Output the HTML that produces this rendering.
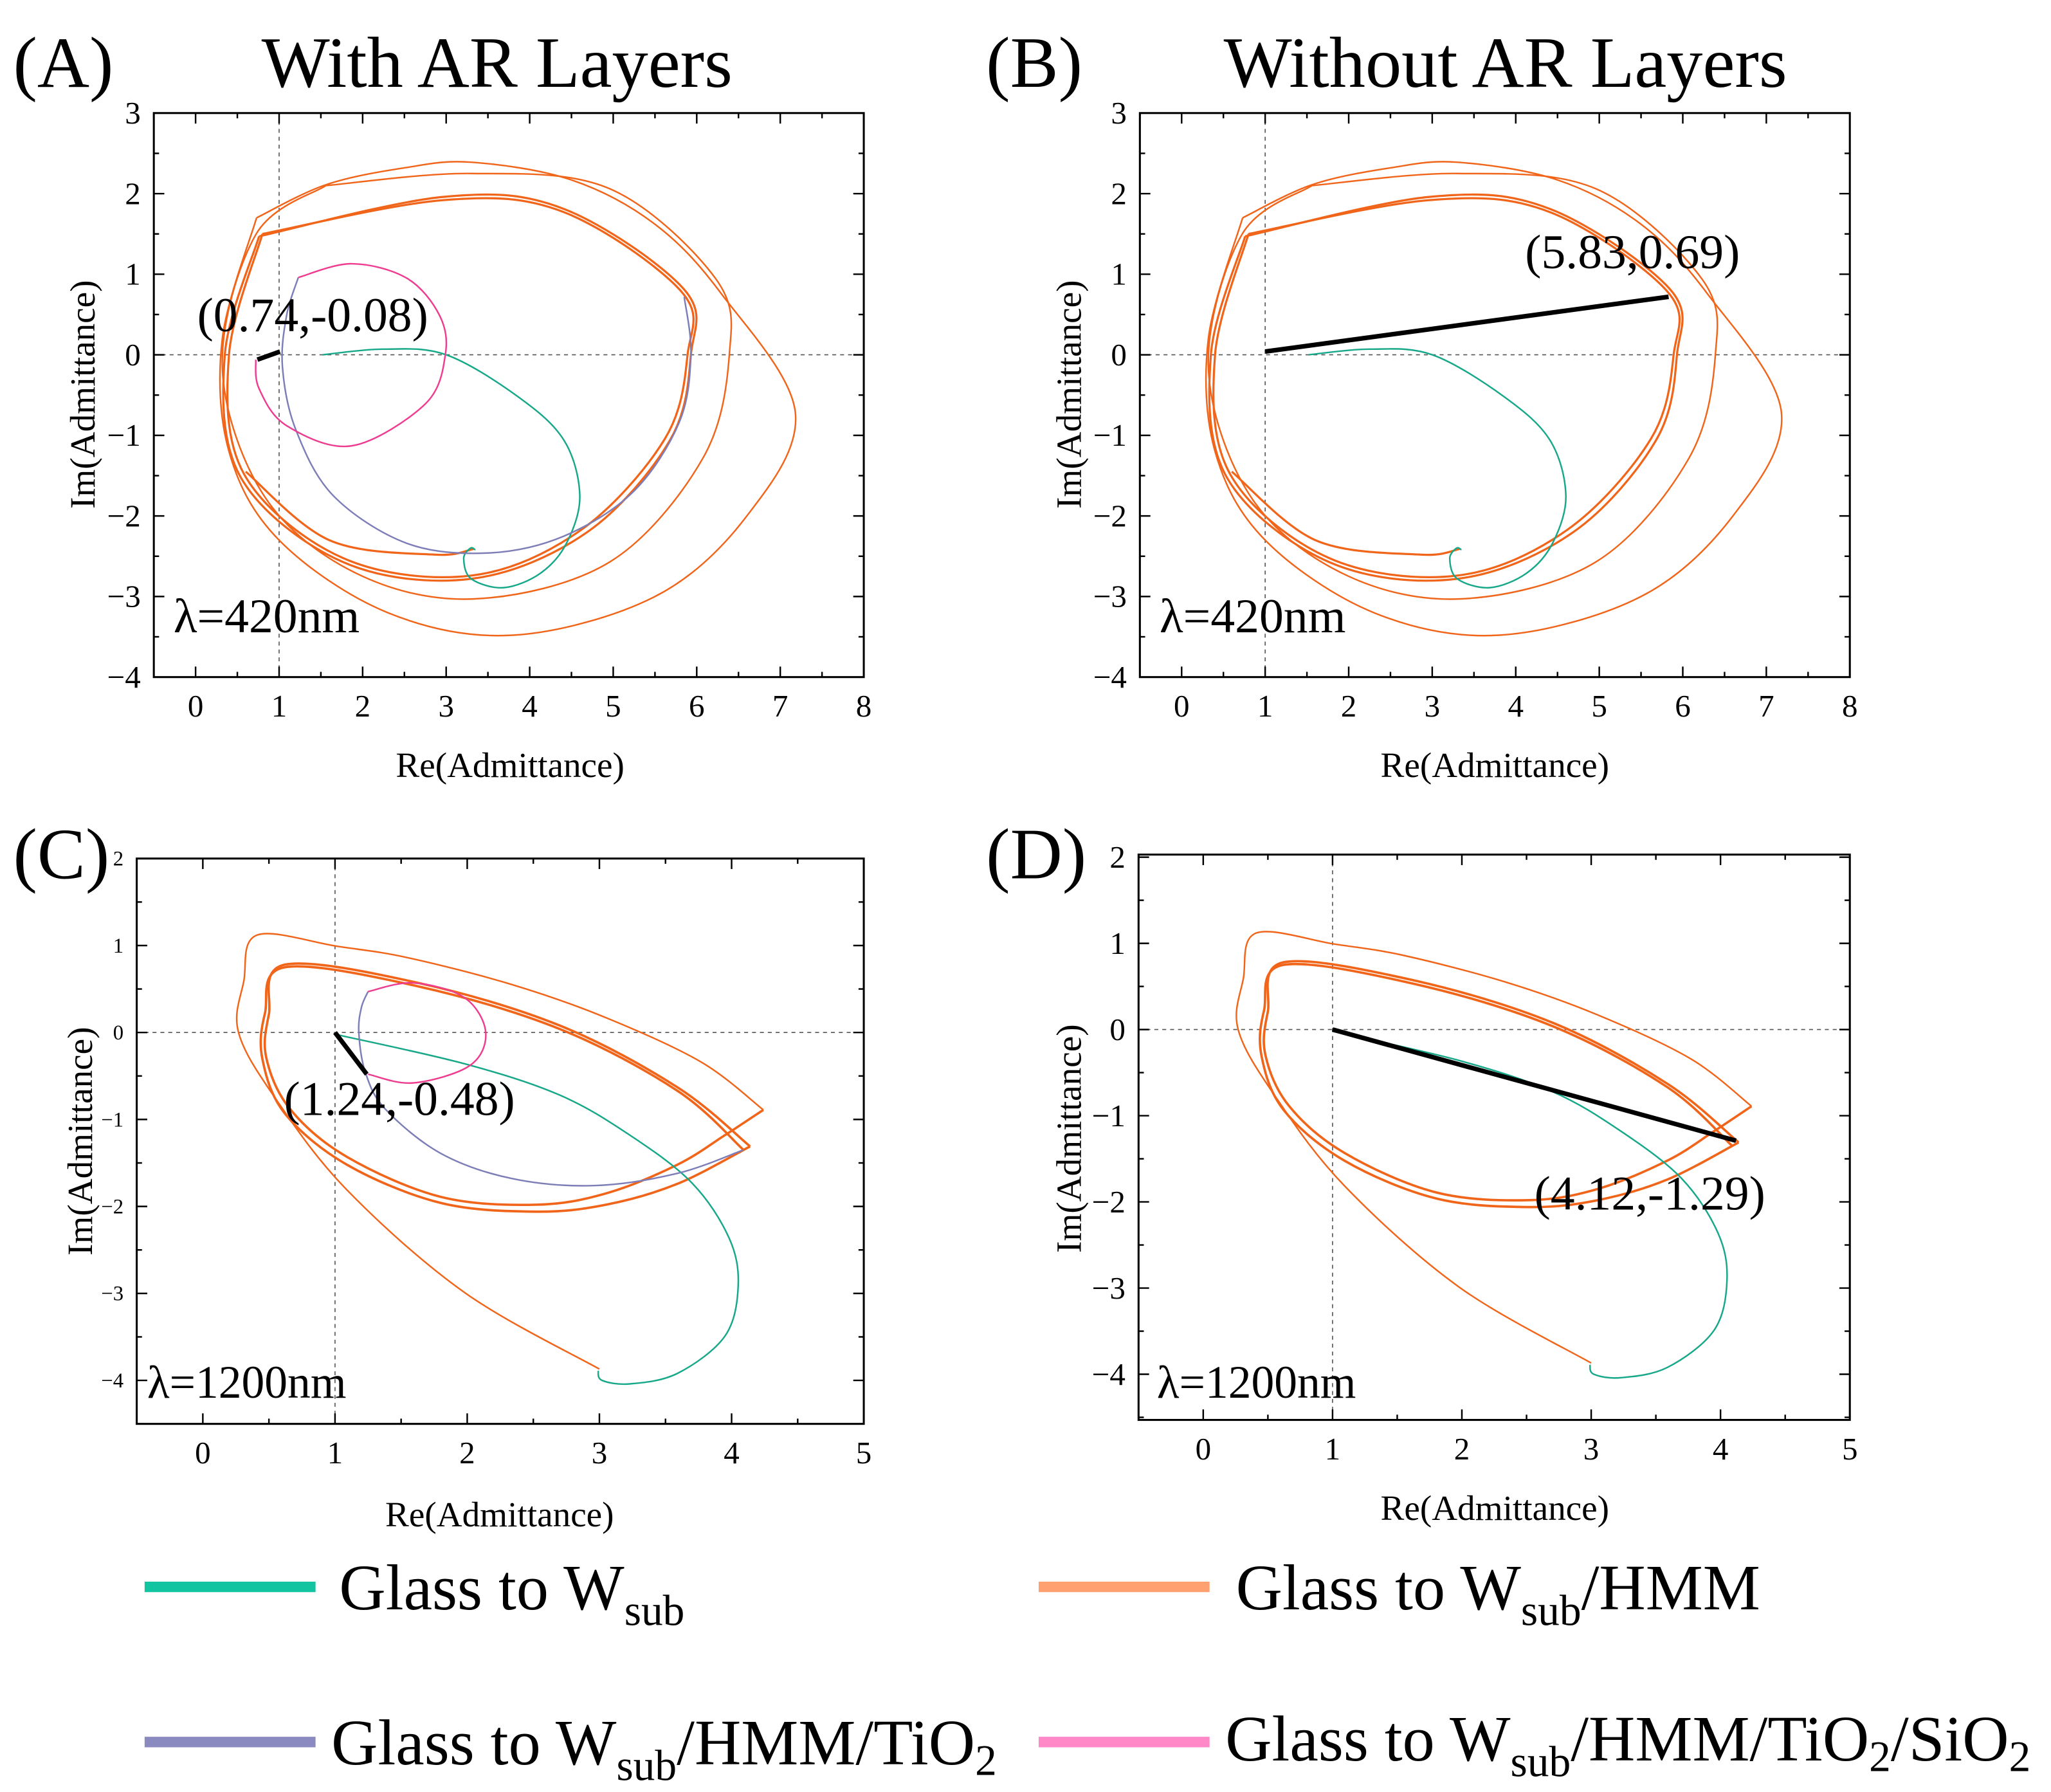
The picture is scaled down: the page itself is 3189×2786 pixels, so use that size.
<!DOCTYPE html>
<html><head><meta charset="utf-8"><style>
html,body{margin:0;padding:0;background:#fff}
svg{display:block}
text{font-family:"Liberation Serif",serif;fill:#000}
</style></head><body>
<svg id="fig" width="3189" height="2786" viewBox="0 0 1560 1363" preserveAspectRatio="none" xmlns="http://www.w3.org/2000/svg">
<g id="root"></g>
<text x="10" y="66" font-size="55">(A)</text>
<text x="378" y="66" font-size="55" text-anchor="middle">With AR Layers</text>
<text x="750" y="66" font-size="55">(B)</text>
<text x="1145" y="66" font-size="55" text-anchor="middle">Without AR Layers</text>
<text x="10" y="668" font-size="55">(C)</text>
<text x="750" y="668" font-size="55">(D)</text>
<g>
<line x1="110" y1="1207" x2="240" y2="1207" stroke="#12c4a0" stroke-width="8"/>
<text x="258" y="1224" font-size="49">Glass to W<tspan font-size="33" dy="12">sub</tspan></text>
<line x1="790" y1="1207" x2="920" y2="1207" stroke="#ffa070" stroke-width="8"/>
<text x="940" y="1224" font-size="49">Glass to W<tspan font-size="33" dy="12">sub</tspan><tspan dy="-12">/HMM</tspan></text>
<line x1="110" y1="1325" x2="240" y2="1325" stroke="#8a8ac0" stroke-width="8"/>
<text x="252" y="1342" font-size="49">Glass to W<tspan font-size="33" dy="12">sub</tspan><tspan dy="-12">/HMM/TiO</tspan><tspan font-size="33" dy="8">2</tspan></text>
<line x1="790" y1="1325" x2="920" y2="1325" stroke="#ff88c8" stroke-width="8"/>
<text x="932" y="1339" font-size="49">Glass to W<tspan font-size="33" dy="12">sub</tspan><tspan dy="-12">/HMM/TiO</tspan><tspan font-size="33" dy="8">2</tspan><tspan dy="-8">/SiO</tspan><tspan font-size="33" dy="8">2</tspan></text>
</g>
</svg>
<script>
// ---- data (admittance coordinates) ----
const visOrange1 = [[0.73,1.70],[1.56,2.11],[2.5,2.32],[3.3,2.39],[4.5,2.17],[5.5,1.62],[6.3,0.75],[7.18,-0.71],[6.6,-2.0],[5.5,-3.0],[3.8,-3.48],[2.3,-3.2],[1.0,-2.3],[0.4,-1.2],[0.32,0.2],[0.73,1.70]];
const visOrange2 = [[1.56,2.10],[3.3,2.25],[4.96,2.06],[6.23,0.94],[6.39,0.0],[6.07,-1.29],[4.96,-2.57],[3.33,-3.03],[1.92,-2.71],[0.82,-1.75],[0.32,-0.15],[0.72,1.49],[1.56,2.10]];
const visOrange3 = [[0.76,1.47],[2.97,1.96],[4.41,1.81],[5.85,0.81],[5.93,0.0],[5.68,-1.06],[4.69,-2.2],[3.30,-2.78],[1.76,-2.57],[0.54,-1.52],[0.35,0.0],[0.76,1.47]];
const visOrange4 = [[0.80,1.50],[2.97,1.92],[4.41,1.77],[5.82,0.78],[5.89,0.0],[5.62,-1.04],[4.62,-2.17],[3.30,-2.74],[1.76,-2.52],[0.58,-1.48],[0.40,0.0],[0.80,1.50]];
const visOrange5 = [[0.60,-1.45],[1.6,-2.3],[2.86,-2.48],[3.33,-2.41]];
const visTeal = [[1.52,0],[2.25,0.07],[3.0,0],[3.86,-0.52],[4.41,-1.06],[4.6,-1.75],[4.44,-2.34],[4.13,-2.71],[3.69,-2.89],[3.30,-2.78],[3.21,-2.53],[3.29,-2.4],[3.35,-2.42]];
const visPurple = [[5.85,0.72],[5.93,0.0],[5.79,-0.84],[5.24,-1.7],[4.41,-2.25],[3.50,-2.46],[2.53,-2.34],[1.65,-1.75],[1.20,-0.93],[1.04,-0.15],[1.09,0.49],[1.23,0.96]];
const visPink = [[1.23,0.96],[1.87,1.13],[2.53,0.95],[2.92,0.49],[2.99,0.0],[2.75,-0.61],[1.87,-1.13],[1.09,-0.88],[0.76,-0.42],[0.72,-0.06]];
const visBlackA = [[0.74,-0.06],[1.01,0.04]];
const visBlackB = [[1.0,0.04],[5.83,0.72]];

const irOrange1 = [[3.0,-3.87],[1.98,-2.99],[1.09,-1.81],[0.55,-0.76],[0.27,0.0],[0.31,0.59],[0.41,1.12],[1.02,0.99],[1.55,0.86],[2.34,0.55],[3.05,0.17],[3.77,-0.34],[4.24,-0.89]];
const irOrange2 = [[4.24,-0.89],[3.95,-1.18],[3.59,-1.52],[3.05,-1.85],[2.52,-1.98],[1.80,-1.89],[1.09,-1.43],[0.66,-0.88],[0.48,-0.29],[0.50,0.21],[0.62,0.78],[1.63,0.57],[2.70,0.08],[3.59,-0.63],[4.14,-1.31]];
const irOrange3 = [[4.14,-1.31],[3.59,-1.74],[3.05,-1.98],[2.52,-2.06],[1.80,-1.96],[1.09,-1.52],[0.62,-0.93],[0.45,-0.30],[0.47,0.22],[0.62,0.75],[1.63,0.53],[2.70,0.04],[3.59,-0.67],[4.09,-1.35]];
const irTeal = [[1.0,-0.02],[1.98,-0.36],[2.70,-0.72],[3.23,-1.18],[3.70,-1.73],[3.98,-2.36],[4.05,-2.91],[3.95,-3.49],[3.59,-3.92],[3.23,-4.04],[3.02,-4.0],[2.99,-3.89]];
const irPurple = [[4.09,-1.35],[3.59,-1.62],[2.96,-1.76],[2.34,-1.68],[1.80,-1.39],[1.38,-0.88],[1.23,-0.46],[1.18,0.0],[1.2,0.29],[1.25,0.47]];
const irPink = [[1.25,0.47],[1.59,0.57],[1.98,0.40],[2.14,0.0],[2.02,-0.38],[1.59,-0.58],[1.25,-0.48]];
const irBlackC = [[1.0,0.0],[1.24,-0.48]];
const irBlackD = [[1.0,0.0],[4.12,-1.29]];

const xTicksVis = [0,1,2,3,4,5,6,7,8];
const yTicksVis = [3,2,1,0,-1,-2,-3,-4];
const xTicksIR = [0,1,2,3,4,5];
const yTicksIR = [2,1,0,-1,-2,-3,-4];

const NS="http://www.w3.org/2000/svg";
const root=document.getElementById('root');
function mk(tag,attrs,parent){const e=document.createElementNS(NS,tag);for(const k in attrs)e.setAttribute(k,attrs[k]);(parent||root).appendChild(e);return e;}

function panel(id,box,xd,yd,xt,yt,tickFs){
  const g=mk('g',{});
  
  
  const sx=v=>box.l+(v-xd[0])/(xd[1]-xd[0])*(box.r-box.l);
  const sy=v=>box.t+(yd[1]-v)/(yd[1]-yd[0])*(box.b-box.t);
  const d1=mk('line',{x1:sx(1),x2:sx(1),y1:box.t,y2:box.b,stroke:'#555','stroke-width':0.8,'stroke-dasharray':'3,3'},g);
  
  
  const d0=mk('line',{x1:box.l,x2:box.r,y1:sy(0),y2:sy(0),stroke:'#555','stroke-width':0.8,'stroke-dasharray':'3,3'},g);
  
  
  const fr=mk('rect',{x:box.l,y:box.t,width:box.r-box.l,height:box.b-box.t,fill:'none',stroke:'#000','stroke-width':1.5},g);
  
  
  for(let v=xd[0];v<=xd[1]+1e-9;v+=0.5){
    const major=Math.abs(v-Math.round(v))<1e-9; const L=major?8:4; const x=sx(v);
    mk('line',{x1:x,x2:x,y1:box.b,y2:box.b-L,stroke:'#000','stroke-width':1.2},g);
    mk('line',{x1:x,x2:x,y1:box.t,y2:box.t+L,stroke:'#000','stroke-width':1.2},g);
  }
  for(let v=Math.ceil(yd[0]*2)/2;v<=yd[1]+1e-9;v+=0.5){
    const major=Math.abs(v-Math.round(v))<1e-9; const L=major?8:4; const y=sy(v);
    mk('line',{x1:box.l,x2:box.l+L,y1:y,y2:y,stroke:'#000','stroke-width':1.2},g);
    mk('line',{x1:box.r,x2:box.r-L,y1:y,y2:y,stroke:'#000','stroke-width':1.2},g);
  }
  xt.forEach(v=>{const t=mk('text',{x:sx(v),y:box.b+30,'font-size':24,'text-anchor':'middle'},g);t.textContent=v;
    
    });
  yt.forEach(v=>{const t=mk('text',{x:box.l-10,y:sy(v)+(tickFs/3),'font-size':tickFs,'text-anchor':'end'},g);t.textContent=(v<0?'\u2212'+(-v):v);
    
    });
  return {g,sx,sy};
}
function curve(p,pts,color,w,name){
  const P=pts.map(q=>[p.sx(q[0]),p.sy(q[1])]);
  let d='M'+P[0][0]+','+P[0][1];
  for(let i=0;i<P.length-1;i++){
    const p0=P[Math.max(0,i-1)],p1=P[i],p2=P[i+1],p3=P[Math.min(P.length-1,i+2)];
    const c1=[p1[0]+(p2[0]-p0[0])/6,p1[1]+(p2[1]-p0[1])/6];
    const c2=[p2[0]-(p3[0]-p1[0])/6,p2[1]-(p3[1]-p1[1])/6];
    d+=' C'+c1[0]+','+c1[1]+' '+c2[0]+','+c2[1]+' '+p2[0]+','+p2[1];
  }
  const e=mk('path',{d:d,fill:'none',stroke:color,'stroke-width':w,'stroke-linejoin':'round'},p.g);
  
  
}
function seg(p,pts,name){
  const e=mk('line',{x1:p.sx(pts[0][0]),y1:p.sy(pts[0][1]),x2:p.sx(pts[1][0]),y2:p.sy(pts[1][1]),stroke:'#000','stroke-width':3.5},p.g);
  
  
}
function label(p,x,y,txt,fs,name,anchor){
  const t=mk('text',{x:x,y:y,'font-size':fs,'text-anchor':anchor||'start'},p.g);t.textContent=txt;
  
  
}
function titles(p,cx,ty,yx,cy){
  label(p,cx,ty,'Re(Admittance)',27,'x-axis-title','middle');
  const t=mk('text',{x:yx,y:cy,'font-size':27,'text-anchor':'middle',transform:'rotate(-90 '+yx+' '+cy+')'},p.g);
  t.textContent='Im(Admittance)';
  
  
}
const OR='#f0651a',TE='#17a88a',PU='#7d7db8',PK='#ee3d90';
function visCurves(p,withAR){
  [visOrange1,visOrange2,visOrange3,visOrange4,visOrange5].forEach((c,i)=>curve(p,c,OR,i>1?1.6:1.2,'hmm-curve-'+(i+1)));
  curve(p,visTeal,TE,1.2,'wsub-curve');
  if(withAR){curve(p,visPurple,PU,1.2,'tio2-curve');curve(p,visPink,PK,1.2,'sio2-curve');}
}
function irCurves(p,withAR){
  [irOrange1,irOrange2,irOrange3].forEach((c,i)=>curve(p,c,OR,i>0?1.8:1.2,'hmm-curve-'+(i+1)));
  curve(p,irTeal,TE,1.2,'wsub-curve');
  if(withAR){curve(p,irPurple,PU,1.2,'tio2-curve');curve(p,irPink,PK,1.2,'sio2-curve');}
}
const pA=panel('panel-a',{l:117,r:657,t:86,b:515},[-0.5,8],[-4,3],xTicksVis,yTicksVis,24);
visCurves(pA,true); seg(pA,visBlackA,'admittance-endpoint-line');
label(pA,150,252,'(0.74,-0.08)',37,'endpoint-value-label');
label(pA,132,481,'\u03bb=420nm',37,'wavelength-label');
titles(pA,388,591,72,300);
const pB=panel('panel-b',{l:867,r:1407,t:86,b:515},[-0.5,8],[-4,3],xTicksVis,yTicksVis,24);
visCurves(pB,false); seg(pB,visBlackB,'admittance-endpoint-line');
label(pB,1160,204,'(5.83,0.69)',37,'endpoint-value-label');
label(pB,882,481,'\u03bb=420nm',37,'wavelength-label');
titles(pB,1137,591,822,300);
const pC=panel('panel-c',{l:104,r:657,t:653,b:1083},[-0.5,5],[-4.5,2],xTicksIR,yTicksIR,16);
irCurves(pC,true); seg(pC,irBlackC,'admittance-endpoint-line');
label(pC,216,848,'(1.24,-0.48)',37,'endpoint-value-label');
label(pC,112,1063,'\u03bb=1200nm',35,'wavelength-label');
titles(pC,380,1161,70,868);
const pD=panel('panel-d',{l:866,r:1407,t:650,b:1080},[-0.5,5],[-4.53,2.03],xTicksIR,yTicksIR,24);
irCurves(pD,false); seg(pD,irBlackD,'admittance-endpoint-line');
label(pD,1167,920,'(4.12,-1.29)',37,'endpoint-value-label');
label(pD,880,1063,'\u03bb=1200nm',35,'wavelength-label');
titles(pD,1137,1156,822,866);
</script>
</body></html>
